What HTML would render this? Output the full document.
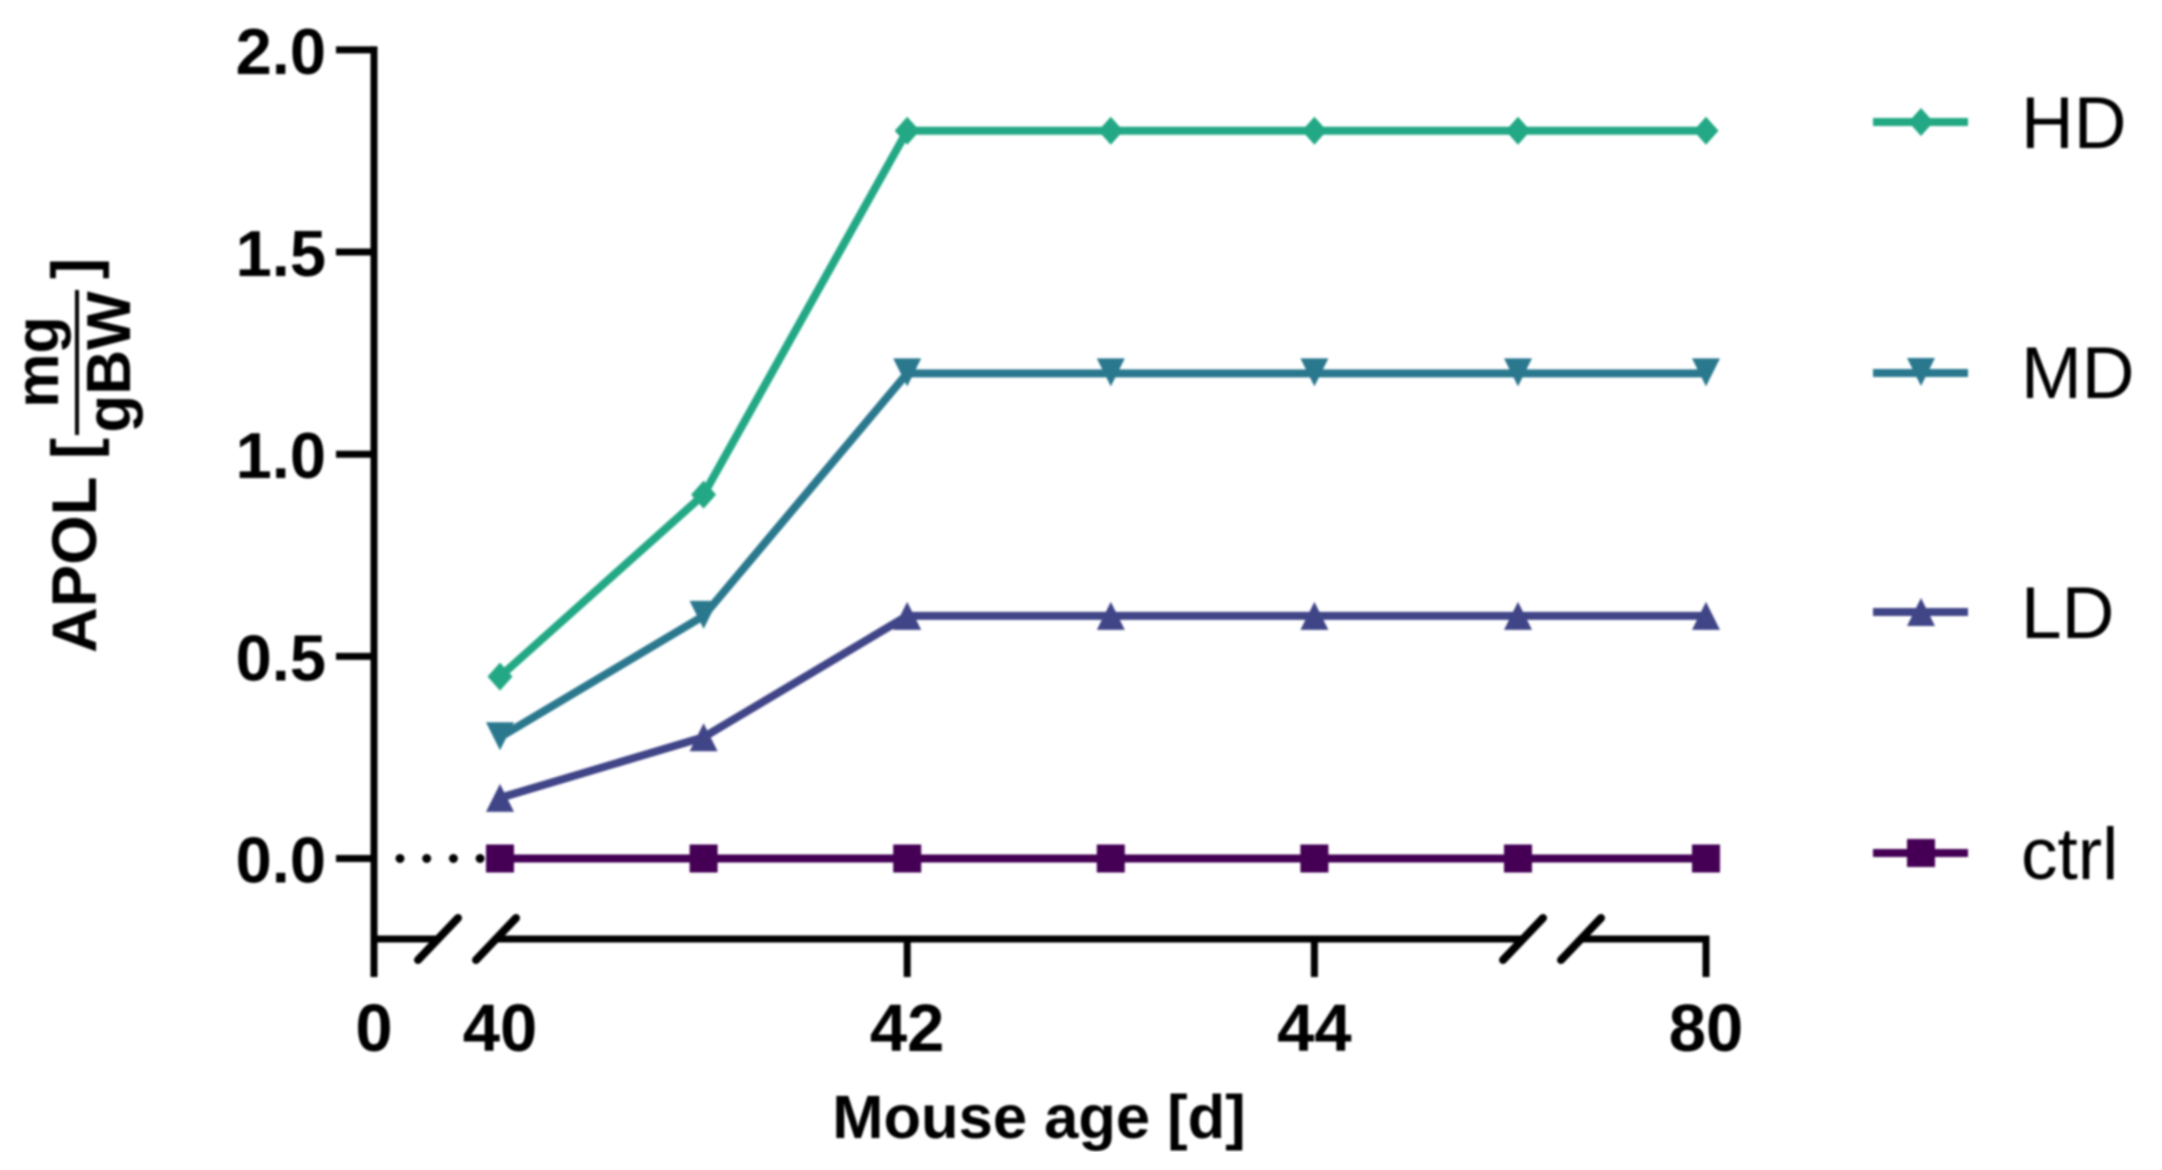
<!DOCTYPE html>
<html lang="en">
<head>
<meta charset="utf-8">
<title>APOL dose by mouse age</title>
<style>
  html, body { margin: 0; padding: 0; background: #fff; }
  body { width: 2162px; height: 1170px; overflow: hidden; }
  svg { display: block; }
  text { font-family: "Liberation Sans", sans-serif; fill: #000; }
  .bold { font-weight: 700; }
</style>
</head>
<body>
<svg id="chart" xmlns="http://www.w3.org/2000/svg" width="2162" height="1170" viewBox="0 0 2162 1170">
  <defs>
    <filter id="soft" x="0" y="0" width="100%" height="100%" filterUnits="objectBoundingBox">
      <feGaussianBlur stdDeviation="1"/>
    </filter>
  </defs>
  <rect x="0" y="0" width="2162" height="1170" fill="#fff"/>
  <g id="root" filter="url(#soft)">
    <g id="axes"></g>
    <g id="series"></g>
    <g id="legend"></g>
    <g>
      <text class="bold" font-size="63.5" transform="translate(96,653) rotate(-90)">APOL</text>
      <text class="bold" font-size="63" transform="translate(96,459) rotate(-90)">[</text>
      <text class="bold" font-size="61" text-anchor="middle" transform="translate(58,362) rotate(-90)">mg</text>
      <line x1="77" y1="290" x2="77" y2="435" stroke="#000" stroke-width="4"/>
      <text class="bold" font-size="62" text-anchor="middle" transform="translate(130,362) rotate(-90)">gBW</text>
      <text class="bold" font-size="63" transform="translate(96,279) rotate(-90)">]</text>
    </g>
    <text class="bold" font-size="61.5" text-anchor="middle" x="1039" y="1138">Mouse age [d]</text>
  </g>
</svg>
<script>
// ---- chart data ----
const ages = [40, 41, 42, 43, 44, 45, 80];
const hdValues = [0.45, 0.9, 1.8, 1.8, 1.8, 1.8, 1.8];
const mdValues = [0.3, 0.6, 1.2, 1.2, 1.2, 1.2, 1.2];
const ldValues = [0.15, 0.3, 0.6, 0.6, 0.6, 0.6, 0.6];
const ctrlValues = [0, 0, 0, 0, 0, 0, 0];
const yTickValues = [0, 0.5, 1, 1.5, 2];
const yTickLabels = ["0.0", "0.5", "1.0", "1.5", "2.0"];
const xTickValues = [0, 40, 42, 44, 80];
const xTickLabels = ["0", "40", "42", "44", "80"];
const seriesNames = ["ctrl", "LD", "MD", "HD"];

// ---- axis functions ----
function yScale(v) { return 858.5 - v * 404.3; }
function xScale(d) {
  if (d < 40) return 374 + d * 1;          // first segment of the broken axis
  if (d <= 45) return 500 + (d - 40) * 203.6; // main segment
  return 1706 - (80 - d) * 3.5;            // last segment
}

const NS = "http://www.w3.org/2000/svg";
function mk(tag, attrs, parent) {
  const el = document.createElementNS(NS, tag);
  for (const k in attrs) el.setAttribute(k, attrs[k]);
  parent.appendChild(el);
  return el;
}

const axes = document.getElementById("axes");
const seriesG = document.getElementById("series");
const legend = document.getElementById("legend");
const AXIS_W = 7;
const axisBase = 939;
const axisEnd = 977;

// y axis line
const yLine = mk("line", {x1: 374, y1: yScale(2) - AXIS_W / 2, x2: 374, y2: axisEnd, stroke: "#000", "stroke-width": AXIS_W}, axes);



// y ticks and labels
yTickValues.forEach(function (v, i) {
  const t = mk("line", {x1: 336, y1: yScale(v), x2: 374, y2: yScale(v), stroke: "#000", "stroke-width": AXIS_W}, axes);
  
  
  const l = mk("text", {x: 326, y: yScale(v) + 24, "text-anchor": "end", "font-size": 65, "class": "bold"}, axes);
  l.textContent = yTickLabels[i];
  
  
});

// x axis segments (broken axis)
const seg1 = mk("line", {x1: 374, y1: axisBase, x2: 438, y2: axisBase, stroke: "#000", "stroke-width": AXIS_W}, axes);


const seg2 = mk("line", {x1: 496, y1: axisBase, x2: 1523, y2: axisBase, stroke: "#000", "stroke-width": AXIS_W}, axes);


const seg3 = mk("line", {x1: 1581, y1: axisBase, x2: xScale(80) + AXIS_W / 2, y2: axisBase, stroke: "#000", "stroke-width": AXIS_W}, axes);



// break marks
[438, 496, 1523, 1581].forEach(function (c) {
  const s = mk("line", {x1: c - 20, y1: 960, x2: c + 20, y2: 918, stroke: "#000", "stroke-width": 8, "stroke-linecap": "round"}, axes);
  
  
});

// x ticks and labels
xTickValues.forEach(function (d, i) {
  if (d !== 0 && d !== 40) {
    const t = mk("line", {x1: xScale(d), y1: axisBase, x2: xScale(d), y2: axisEnd, stroke: "#000", "stroke-width": AXIS_W}, axes);
    
    
  }
  const l = mk("text", {x: xScale(d), y: 1051, "text-anchor": "middle", "font-size": 67, "class": "bold"}, axes);
  l.textContent = xTickLabels[i];
  
  
});

// marker shapes
function markerPoints(kind, cx, cy) {
  if (kind === "diamond") return [[cx, cy - 14], [cx + 12.5, cy], [cx, cy + 14], [cx - 12.5, cy]];
  if (kind === "down") return [[cx - 14, cy - 15], [cx + 14, cy - 15], [cx, cy + 13]];
  if (kind === "up") return [[cx, cy - 14], [cx + 14, cy + 14], [cx - 14, cy + 14]];
  return [[cx - 14, cy - 14], [cx + 14, cy - 14], [cx + 14, cy + 14], [cx - 14, cy + 14]];
}
function drawMarker(kind, cx, cy, color, parent) {
  const pts = markerPoints(kind, cx, cy).map(function (p) { return p[0] + "," + p[1]; }).join(" ");
  return mk("polygon", {points: pts, fill: color}, parent);
}
function drawSeries(name, values, color, kind) {
  const g = mk("g", {}, seriesG);
  
  
  const pts = ages.map(function (a, i) { return xScale(a) + "," + yScale(values[i]); }).join(" ");
  const line = mk("polyline", {points: pts, fill: "none", stroke: color, "stroke-width": 8, "stroke-linejoin": "miter"}, g);
  
  
  ages.forEach(function (a, i) {
    const m = drawMarker(kind, xScale(a), yScale(values[i]), color, g);
    
    
  });
}

// dotted connection of the control series from day 0 to day 40
const dots = mk("line", {x1: xScale(0) + 26, y1: yScale(ctrlValues[0]), x2: xScale(40) - 15, y2: yScale(ctrlValues[0]), stroke: "#000", "stroke-width": 9, "stroke-linecap": "round", "stroke-dasharray": "0 26.7"}, axes);



drawSeries("ctrl", ctrlValues, "#440154", "square");
drawSeries("ld", ldValues, "#414487", "up");
drawSeries("md", mdValues, "#2a788e", "down");
drawSeries("hd", hdValues, "#22a884", "diamond");

// legend
function drawLegendEntry(label, kind, color, lineY, baseY) {
  const g = mk("g", {}, legend);
  
  
  const ln = mk("line", {x1: 1873, y1: lineY, x2: 1968, y2: lineY, stroke: color, "stroke-width": 8}, g);
  
  
  const mkr = drawMarker(kind, 1921, lineY, color, g);
  
  
  const t = mk("text", {x: 2021, y: baseY, "font-size": 73}, g);
  t.textContent = label;
  
  
}
drawLegendEntry(seriesNames[3], "diamond", "#22a884", 122, 148);
drawLegendEntry(seriesNames[2], "down", "#2a788e", 373, 398);
drawLegendEntry(seriesNames[1], "up", "#414487", 612, 638);
drawLegendEntry(seriesNames[0], "square", "#440154", 853, 879);
</script>
</body>
</html>
